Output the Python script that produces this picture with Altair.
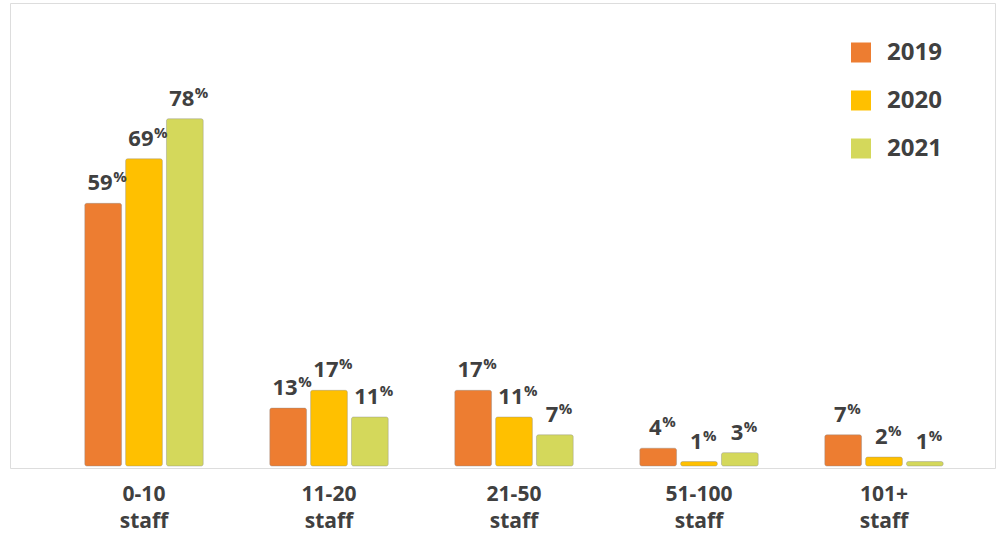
import altair as alt
import pandas as pd

categories = ["0-10 staff", "11-20 staff", "21-50 staff", "51-100 staff", "101+ staff"]
years = ["2019", "2020", "2021"]
v2019 = [59, 13, 17, 4, 7]
v2020 = [69, 17, 11, 1, 2]
v2021 = [78, 11, 7, 3, 1]
colors = ["#ED7D31", "#FFC000", "#D4D85B"]

rows = []
for y, vals in zip(years, [v2019, v2020, v2021]):
    for c, v in zip(categories, vals):
        rows.append({"cat": c, "year": y, "value": v, "nd": len(str(v))})
df = pd.DataFrame(rows)

FONT = "Open Sans"
TXT = "#404040"

x_enc = alt.X("cat:N", sort=categories, title=None,
              scale=alt.Scale(range=[41.5, 966.5], paddingInner=0.36, paddingOuter=0.18),
              axis=alt.Axis(labelExpr="split(datum.label, ' ')", labelAngle=0,
                            domain=False, ticks=False, grid=False,
                            labelFont=FONT, labelFontWeight="bold", labelFontSize=21,
                            labelColor=TXT, labelLineHeight=27,
                            labelBaseline="alphabetic", labelPadding=32))
xo_enc = alt.XOffset("year:N", sort=years,
                     scale=alt.Scale(paddingInner=0.1, paddingOuter=0))
y_enc = alt.Y("value:Q", axis=None, scale=alt.Scale(domain=[-0.45, 104], nice=False, zero=False))

base = alt.Chart(df)

bars = base.mark_bar(cornerRadius=2, stroke="#8a8a8a", strokeWidth=0.8, strokeOpacity=0.5).encode(
    x=x_enc, xOffset=xo_enc,
    y=alt.Y("value:Q", axis=None, scale=alt.Scale(domain=[-0.45, 104], nice=False, zero=False)),
    y2=alt.datum(0),
    color=alt.Color("year:N", sort=years,
                    scale=alt.Scale(domain=years, range=colors),
                    legend=alt.Legend(title=None, orient="none", legendX=839, legendY=37.5,
                                      symbolType="square", symbolSize=400, symbolStrokeWidth=0,
                                      symbolOpacity=1,
                                      labelFont=FONT, labelFontWeight="bold", labelFontSize=24,
                                      labelColor=TXT, labelOffset=14, rowPadding=24,
                                      padding=0, offset=0)),
)

layers = [bars]
for nd, dxv in [(1, 3.5), (2, 9.5)]:
    sub = base.transform_filter(alt.datum.nd == nd)
    num = sub.mark_text(font=FONT, fontWeight="bold", fontSize=22, color=TXT,
                        align="right", baseline="alphabetic", dx=dxv, dy=-13).encode(
        x=x_enc, xOffset=xo_enc, y=y_enc, text=alt.Text("value:Q"))
    pct = sub.mark_text(font=FONT, fontWeight="bold", fontSize=15, color=TXT,
                        align="left", baseline="alphabetic", dx=dxv + 0.5, dy=-21).encode(
        x=x_enc, xOffset=xo_enc, y=y_enc, text=alt.value("%"))
    layers += [num, pct]

chart = alt.layer(*layers).properties(
    width=985, height=465,
    autosize=alt.AutoSizeParams(type="none"),
    padding={"left": 10, "top": 3, "right": 3, "bottom": 65},
).configure_view(stroke="#E8E8E8", strokeWidth=1.5).configure(background="white")

chart.save("out.html", embed_options={"renderer": "svg", "actions": False})
